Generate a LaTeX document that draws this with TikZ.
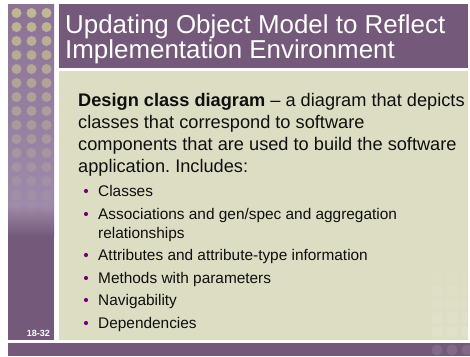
\documentclass[tikz,border=0pt]{standalone}
\usepackage{fontspec}
\setmainfont{Liberation Sans}
\frenchspacing
\definecolor{slidepurple}{RGB}{116,89,122}
\definecolor{coltop}{RGB}{140,115,150}
\definecolor{colmid}{RGB}{158,138,170}
\definecolor{cream}{RGB}{221,221,195}
\definecolor{dotyellow}{RGB}{200,196,146}
\definecolor{bulletpurple}{RGB}{120,0,120}
\definecolor{bodytext}{RGB}{15,15,15}
\begin{document}
\begin{tikzpicture}[x=1pt,y=-1pt,
  titletext/.style={anchor=base west,inner sep=0,text=white,
    font=\fontsize{25.9}{30}\selectfont},
  bodyline/.style={anchor=base west,inner sep=0,text=bodytext,
    font=\fontsize{18.2}{22}\selectfont},
  itemline/.style={anchor=base west,inner sep=0,text=bodytext,
    font=\fontsize{15.4}{19}\selectfont},
  bulletdot/.style={circle,fill=bulletpurple,inner sep=0,minimum size=4.2pt},
  pagenum/.style={anchor=base east,inner sep=0,text=white,
    font=\bfseries\fontsize{9}{10}\selectfont}]

% page frame
\fill[white] (0,0) rectangle (470,356);
\useasboundingbox (0,0) rectangle (470,356);

% left dotted column
\shade[top color=coltop,bottom color=colmid] (8,4) rectangle (54,205);
\shade[top color=colmid,bottom color=slidepurple] (8,205) rectangle (54,236);
\fill[slidepurple] (8,236) rectangle (54,340);
\foreach \r in {0,...,14}{
  \pgfmathsetmacro{\op}{0.85*(1-\r/15)}
  \foreach \c in {16.5,31.5,46.5}{
    \fill[dotyellow,opacity=\op] (\c,{13+14*\r}) circle[radius=5];
  }
}

% title bar
\fill[slidepurple] (59,4) rectangle (468,68);

% content panel
\fill[cream] (59,71) rectangle (468,340);
\foreach \r in {0,...,5}{
  \pgfmathsetmacro{\op}{0.02+0.022*\r}
  \foreach \c in {437,452,467}{
    \fill[white,opacity=\op,rounded corners=2pt]
      (\c-5.5,{262+14*\r-5.5}) rectangle (\c+5.5,{262+14*\r+5.5});
  }
}

% bottom bar
\fill[slidepurple] (8,343) rectangle (470,356);
\foreach \c in {437,452,467}{
  \fill[white,opacity=0.1] (\c,350) circle[radius=5.5];
}

% title
\node[titletext] (t1) at (65,33) {Updating Object Model to Reflect};
\node[titletext] (t2) at (65,58) {Implementation Environment};

% definition
\node[bodyline] (d1) at (78,106) {\textbf{Design class diagram} – a diagram that depicts};
\node[bodyline] (d2) at (78,128) {classes that correspond to software};
\node[bodyline] (d3) at (78,150) {components that are used to build the software};
\node[bodyline] (d4) at (78,172) {application. Includes:};

% bullet list
\node[itemline] (i1) at (98,196) {Classes};
\node[itemline] (i2) at (98,219) {Associations and gen/spec and aggregation};
\node[itemline] (i2b) at (98,238) {relationships};
\node[itemline] (i3) at (98,260) {Attributes and attribute-type information};
\node[itemline] (i4) at (98,283) {Methods with parameters};
\node[itemline] (i5) at (98,305) {Navigability};
\node[itemline] (i6) at (98,328) {Dependencies};
\node[bulletdot] (p1) at (86,191) {};
\node[bulletdot] (p2) at (86,214) {};
\node[bulletdot] (p3) at (86,255) {};
\node[bulletdot] (p4) at (86,278) {};
\node[bulletdot] (p5) at (86,300) {};
\node[bulletdot] (p6) at (86,323) {};

% slide number
\node[pagenum] (num) at (50,336) {18-32};
\end{tikzpicture}
\end{document}
